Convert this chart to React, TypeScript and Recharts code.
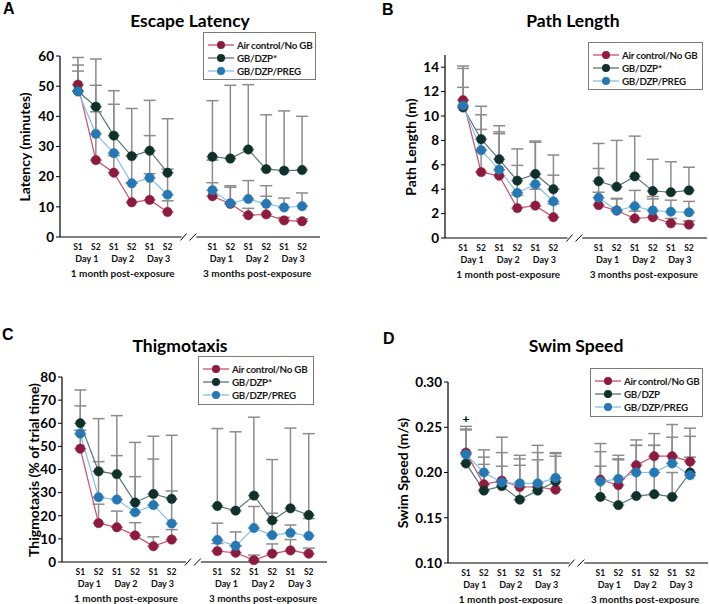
import { LineChart, Line, XAxis, YAxis, ErrorBar, ReferenceLine, ReferenceDot } from 'recharts';

const sessions = ['S1', 'S2', 'S1', 'S2', 'S1', 'S2'];
const days = ['Day 1', 'Day 2', 'Day 3'];
const periods = ['1 month post-exposure', '3 months post-exposure'];
const groupNames = ['Air control/No GB', 'GB/DZP*', 'GB/DZP/PREG'];
const groupNamesSpeed = ['Air control/No GB', 'GB/DZP', 'GB/DZP/PREG'];

// 12 values per series: 6 sessions at 1 month, then 6 at 3 months; *Top = top of error bar
const latencyAir = [50.5, 25.5, 21.3, 11.5, 12.3, 8.3, 13.5, 11.0, 7.2, 7.5, 5.5, 5.2];
const latencyAirTop = [57.0, 41.5, 27.0, 18.0, 21.0, 12.0, 18.0, 16.5, 9.5, 13.5, 6.5, 6.0];
const latencyDzp = [48.3, 43.2, 33.6, 26.8, 28.6, 21.3, 26.6, 26.0, 29.0, 22.5, 22.0, 22.2];
const latencyDzpTop = [59.5, 59.0, 48.5, 42.6, 45.3, 39.2, 45.2, 50.3, 50.5, 40.5, 41.8, 40.0];
const latencyPreg = [48.3, 34.2, 27.8, 17.8, 19.6, 14.0, 15.5, 11.2, 12.6, 11.0, 9.8, 10.2];
const latencyPregTop = [55.0, 50.3, 44.0, 27.0, 33.6, 22.5, 25.5, 17.0, 18.7, 17.0, 12.9, 14.6];

const pathAir = [11.3, 5.4, 5.1, 2.45, 2.65, 1.7, 2.7, 2.25, 1.6, 1.7, 1.2, 1.1];
const pathAirTop = [14.1, 8.9, 8.55, 3.5, 4.0, 2.8, 3.75, 3.2, 2.2, 3.2, 1.6, 1.4];
const pathDzp = [10.7, 8.1, 6.45, 4.7, 5.25, 4.0, 4.65, 4.2, 5.05, 3.85, 3.75, 3.9];
const pathDzpTop = [13.9, 10.8, 9.2, 7.3, 7.95, 6.8, 7.75, 8.0, 8.35, 6.45, 6.25, 5.8];
const pathPreg = [10.85, 7.2, 5.6, 3.7, 4.4, 3.0, 3.3, 2.25, 2.6, 2.25, 2.15, 2.1];
const pathPregTop = [12.35, 10.1, 8.7, 5.95, 7.85, 5.15, 5.7, 3.25, 3.9, 3.4, 3.1, 3.0];

const thigAir = [49, 16.8, 15, 11.5, 6.8, 9.7, 4.7, 4.0, 0.8, 3.6, 5.0, 3.6];
const thigAirTop = [57, 25, 22, 17, 10.9, 14, 8, 7, 3, 7.8, 9.7, 6.0];
const thigDzp = [60, 39.2, 38, 25.7, 29.4, 27.3, 24.2, 22.2, 28.7, 18, 23.2, 20.3];
const thigDzpTop = [74.4, 62, 63.3, 51.7, 54.4, 54.8, 57.7, 56.3, 62.6, 44.3, 57.9, 55.5];
const thigPreg = [55.5, 28, 27, 21.5, 24.6, 16.6, 9.5, 7, 14.7, 11.6, 12.6, 11.3];
const thigPregTop = [67.5, 43.4, 46, 36.9, 44.5, 30.7, 16.8, 13, 24, 21.1, 16, 18.8];

const speedAir = [0.222, 0.187, 0.191, 0.184, 0.184, 0.181, 0.192, 0.186, 0.208, 0.218, 0.218, 0.212];
const speedAirTop = [0.251, 0.217, 0.222, 0.215, 0.222, 0.221, 0.223, 0.215, 0.236, 0.243, 0.253, 0.249];
const speedDzp = [0.21, 0.18, 0.185, 0.17, 0.18, 0.19, 0.173, 0.164, 0.174, 0.176, 0.173, 0.2];
const speedDzpTop = [0.248, 0.209, 0.207, 0.208, 0.214, 0.218, 0.207, 0.214, 0.23, 0.23, 0.2, 0.217];
const speedPreg = [0.22, 0.2, 0.189, 0.188, 0.188, 0.194, 0.19, 0.193, 0.2, 0.2, 0.21, 0.197];
const speedPregTop = [0.247, 0.225, 0.239, 0.219, 0.23, 0.222, 0.232, 0.219, 0.23, 0.23, 0.239, 0.24];

const latencyTicks = [0, 10, 20, 30, 40, 50, 60];
const pathTicks = [0, 2, 4, 6, 8, 10, 12, 14];
const thigTicks = [0, 10, 20, 30, 40, 50, 60, 70, 80];
const speedTicks = [0.1, 0.15, 0.2, 0.25, 0.3];

const FONT = 'Lato, "Open Sans", sans-serif';
const KEYS = ['air', 'dzp', 'preg'];
const COLORS = [
  { dot: '#8e1b3e', line: '#c9506f' },
  { dot: '#10302b', line: '#5b7570' },
  { dot: '#2478b4', line: '#86c0e8' },
];
const ERR_COLOR = '#8c8c8c';
const GROUP_OFFSET = 7.5;
const X_DOMAIN: [number, number] = [-1, 13.5];
const XAXIS_H = 42;

// x ticks: sessions at integer slots, day / period labels between pairs
const xTicks: number[] = [];
const tickInfo = new Map<string, { session?: string; day?: string; period?: string }>();
periods.forEach((p, g) => {
  const off = g * GROUP_OFFSET;
  sessions.forEach((s, i) => {
    xTicks.push(off + i);
    tickInfo.set((off + i).toFixed(2), { session: s });
  });
  days.forEach((d, j) => {
    const v = off + j * 2 + 0.5;
    xTicks.push(v);
    tickInfo.set(v.toFixed(2), { day: d, period: j === 1 ? p : undefined });
  });
});

function buildRows(vals: number[][], tops: number[][], g: number) {
  return sessions.map((_, i) => {
    const k = g * 6 + i;
    const row: any = { x: g * GROUP_OFFSET + i };
    KEYS.forEach((key, s) => {
      row[key] = vals[s][k];
      row[key + 'Err'] = [0, Math.max(0, tops[s][k] - vals[s][k])];
    });
    return row;
  });
}

function XTick(props: any) {
  const { x, y, payload } = props;
  const info = tickInfo.get(Number(payload.value).toFixed(2)) || {};
  const common = { x, textAnchor: 'middle' as const, fontFamily: FONT, fontWeight: 700, fill: '#111' };
  return (
    <g>
      {info.session && <text {...common} y={y + 12.5} fontSize={8.5}>{info.session}</text>}
      {info.day && <text {...common} y={y + 25} fontSize={9}>{info.day}</text>}
      {info.period && <text {...common} y={y + 40} fontSize={10}>{info.period}</text>}
    </g>
  );
}

interface PanelCfg {
  letter: string;
  title: string;
  yLabel: string;
  names: string[];
  vals: number[][];
  tops: number[][];
  yDomain: [number, number];
  yTicks: number[];
  fmt?: (v: number) => string;
  left: number; top: number; width: number; height: number;
  plotLeft: number; plotTop: number; plotBottom: number; plotRight: number;
  yLabelX: number; titleX: number; titleY: number;
  letterX: number; letterY: number;
  legend: { x: number; y: number; w: number; h: number };
  plus?: { x: number; y: number };
}

function Legend({ names, box }: { names: string[]; box: PanelCfg['legend'] }) {
  return (
    <div style={{ position: 'absolute', left: box.x, top: box.y, width: box.w, height: box.h, border: '1px solid #7a7a7a', background: '#fff', boxSizing: 'border-box' }}>
      {names.map((n, i) => (
        <div key={n} style={{ position: 'absolute', left: 3, top: 5 + i * 13, height: 13, display: 'flex', alignItems: 'center' }}>
          <svg width={28} height={10}>
            <line x1={1} y1={5} x2={27} y2={5} stroke={COLORS[i].line} strokeWidth={1.3} />
            <circle cx={14} cy={5} r={4} fill={COLORS[i].dot} />
          </svg>
          <span style={{ marginLeft: 2, fontFamily: FONT, fontWeight: 700, fontSize: 9.8, letterSpacing: -0.25, color: '#1a1a1a', whiteSpace: 'nowrap' }}>{n}</span>
        </div>
      ))}
    </div>
  );
}

function Panel({ cfg }: { cfg: PanelCfg }) {
  const groups = [0, 1].map((g) => buildRows(cfg.vals, cfg.tops, g));
  const [y0, y1] = cfg.yDomain;
  const tilt = (y1 - y0) * 0.019;
  const axisStyle = { stroke: '#000', strokeWidth: 1.2 };
  return (
    <div style={{ position: 'absolute', left: cfg.left, top: cfg.top, width: cfg.width, height: cfg.height }}>
      <LineChart
        width={cfg.width}
        height={cfg.height}
        margin={{ top: cfg.plotTop, right: cfg.width - cfg.plotRight, bottom: cfg.height - cfg.plotBottom - XAXIS_H, left: 0 }}
      >
        <XAxis
          type="number"
          dataKey="x"
          domain={X_DOMAIN}
          ticks={xTicks}
          interval={0}
          tick={<XTick />}
          axisLine={false}
          tickLine={false}
          tickSize={0}
          tickMargin={0}
          height={XAXIS_H}
        />
        <YAxis
          type="number"
          domain={cfg.yDomain}
          ticks={cfg.yTicks}
          interval={0}
          width={cfg.plotLeft}
          tickSize={4}
          tickLine={{ stroke: '#000' }}
          axisLine={axisStyle}
          tick={{ fontSize: 13.5, fontWeight: 700, fill: '#000', fontFamily: FONT }}
          tickFormatter={cfg.fmt}
        />
        <ReferenceLine segment={[{ x: X_DOMAIN[0], y: y0 }, { x: 5.78, y: y0 }]} {...axisStyle} ifOverflow="visible" />
        <ReferenceLine segment={[{ x: 6.6, y: y0 }, { x: X_DOMAIN[1], y: y0 }]} {...axisStyle} ifOverflow="visible" />
        <ReferenceLine segment={[{ x: 5.72, y: y0 - tilt }, { x: 6.06, y: y0 + tilt }]} stroke="#000" strokeWidth={1} ifOverflow="visible" />
        <ReferenceLine segment={[{ x: 6.22, y: y0 - tilt }, { x: 6.6, y: y0 + tilt }]} stroke="#000" strokeWidth={1} ifOverflow="visible" />
        {groups.flatMap((rows, g) =>
          KEYS.map((key) => (
            <Line key={`err-${key}-${g}`} data={rows} dataKey={key} stroke="none" dot={false} activeDot={false} isAnimationActive={false}>
              <ErrorBar dataKey={key + 'Err'} width={6} stroke={ERR_COLOR} strokeWidth={1.5} direction="y" />
            </Line>
          ))
        )}
        {groups.flatMap((rows, g) =>
          KEYS.map((key, s) => (
            <Line
              key={`line-${key}-${g}`}
              data={rows}
              dataKey={key}
              type="linear"
              stroke={COLORS[s].line}
              strokeWidth={1.2}
              dot={{ r: 4.7, fill: COLORS[s].dot, stroke: COLORS[s].dot, strokeWidth: 0.5 }}
              activeDot={false}
              isAnimationActive={false}
            />
          ))
        )}
        {cfg.plus && (
          <ReferenceDot x={cfg.plus.x} y={cfg.plus.y} r={0} fill="none" stroke="none"
            label={{ value: '+', position: 'center', fontSize: 12, fontWeight: 700, fill: '#000', fontFamily: FONT }} />
        )}
      </LineChart>
      <div style={{ position: 'absolute', left: cfg.letterX, top: cfg.letterY, fontFamily: '"Liberation Sans", Arial, sans-serif', fontWeight: 700, fontSize: 16, lineHeight: '16px' }}>{cfg.letter}</div>
      <div style={{ position: 'absolute', left: cfg.titleX, top: cfg.titleY, transform: 'translate(-50%, -50%)', fontFamily: FONT, fontWeight: 700, fontSize: 17.5, whiteSpace: 'nowrap' }}>{cfg.title}</div>
      <div style={{ position: 'absolute', left: cfg.yLabelX, top: (cfg.plotTop + cfg.plotBottom) / 2, transform: 'translate(-50%, -50%) rotate(-90deg)', fontFamily: FONT, fontWeight: 700, fontSize: 14, whiteSpace: 'nowrap' }}>{cfg.yLabel}</div>
      <Legend names={cfg.names} box={cfg.legend} />
    </div>
  );
}

const panels: PanelCfg[] = [
  {
    letter: 'A', title: 'Escape Latency', yLabel: 'Latency (minutes)', names: groupNames,
    vals: [latencyAir, latencyDzp, latencyPreg], tops: [latencyAirTop, latencyDzpTop, latencyPregTop],
    yDomain: [0, 60], yTicks: latencyTicks,
    left: 0, top: 0, width: 355, height: 300,
    plotLeft: 60, plotTop: 56, plotBottom: 237, plotRight: 320,
    yLabelX: 24, titleX: 190, titleY: 20, letterX: 3, letterY: 1,
    legend: { x: 203, y: 32, w: 113, h: 48 },
  },
  {
    letter: 'B', title: 'Path Length', yLabel: 'Path Length (m)', names: groupNames,
    vals: [pathAir, pathDzp, pathPreg], tops: [pathAirTop, pathDzpTop, pathPregTop],
    yDomain: [0, 15], yTicks: pathTicks,
    left: 355, top: 0, width: 354, height: 300,
    plotLeft: 90, plotTop: 55, plotBottom: 238, plotRight: 352,
    yLabelX: 55, titleX: 218, titleY: 20, letterX: 27, letterY: 2,
    legend: { x: 233, y: 42, w: 115, h: 48 },
  },
  {
    letter: 'C', title: 'Thigmotaxis', yLabel: 'Thigmotaxis (% of trial time)', names: groupNames,
    vals: [thigAir, thigDzp, thigPreg], tops: [thigAirTop, thigDzpTop, thigPregTop],
    yDomain: [0, 80], yTicks: thigTicks,
    left: 0, top: 300, width: 355, height: 304,
    plotLeft: 62, plotTop: 77, plotBottom: 262, plotRight: 327,
    yLabelX: 33, titleX: 180, titleY: 45, letterX: 2, letterY: 27,
    legend: { x: 198, y: 56, w: 116, h: 49 },
  },
  {
    letter: 'D', title: 'Swim Speed', yLabel: 'Swim Speed (m/s)', names: groupNamesSpeed,
    vals: [speedAir, speedDzp, speedPreg], tops: [speedAirTop, speedDzpTop, speedPregTop],
    yDomain: [0.1, 0.3], yTicks: speedTicks, fmt: (v: number) => v.toFixed(2),
    left: 355, top: 300, width: 354, height: 304,
    plotLeft: 93, plotTop: 82, plotBottom: 263, plotRight: 353,
    yLabelX: 47, titleX: 221, titleY: 45, letterX: 28, letterY: 31,
    legend: { x: 235, y: 68, w: 113, h: 49 },
    plus: { x: 0, y: 0.259 },
  },
];

export default function App() {
  return (
    <div style={{ position: 'absolute', left: 0, top: 0, width: 709, height: 604, background: '#fff', overflow: 'hidden' }}>
      {panels.map((p) => (
        <Panel key={p.letter} cfg={p} />
      ))}
    </div>
  );
}
